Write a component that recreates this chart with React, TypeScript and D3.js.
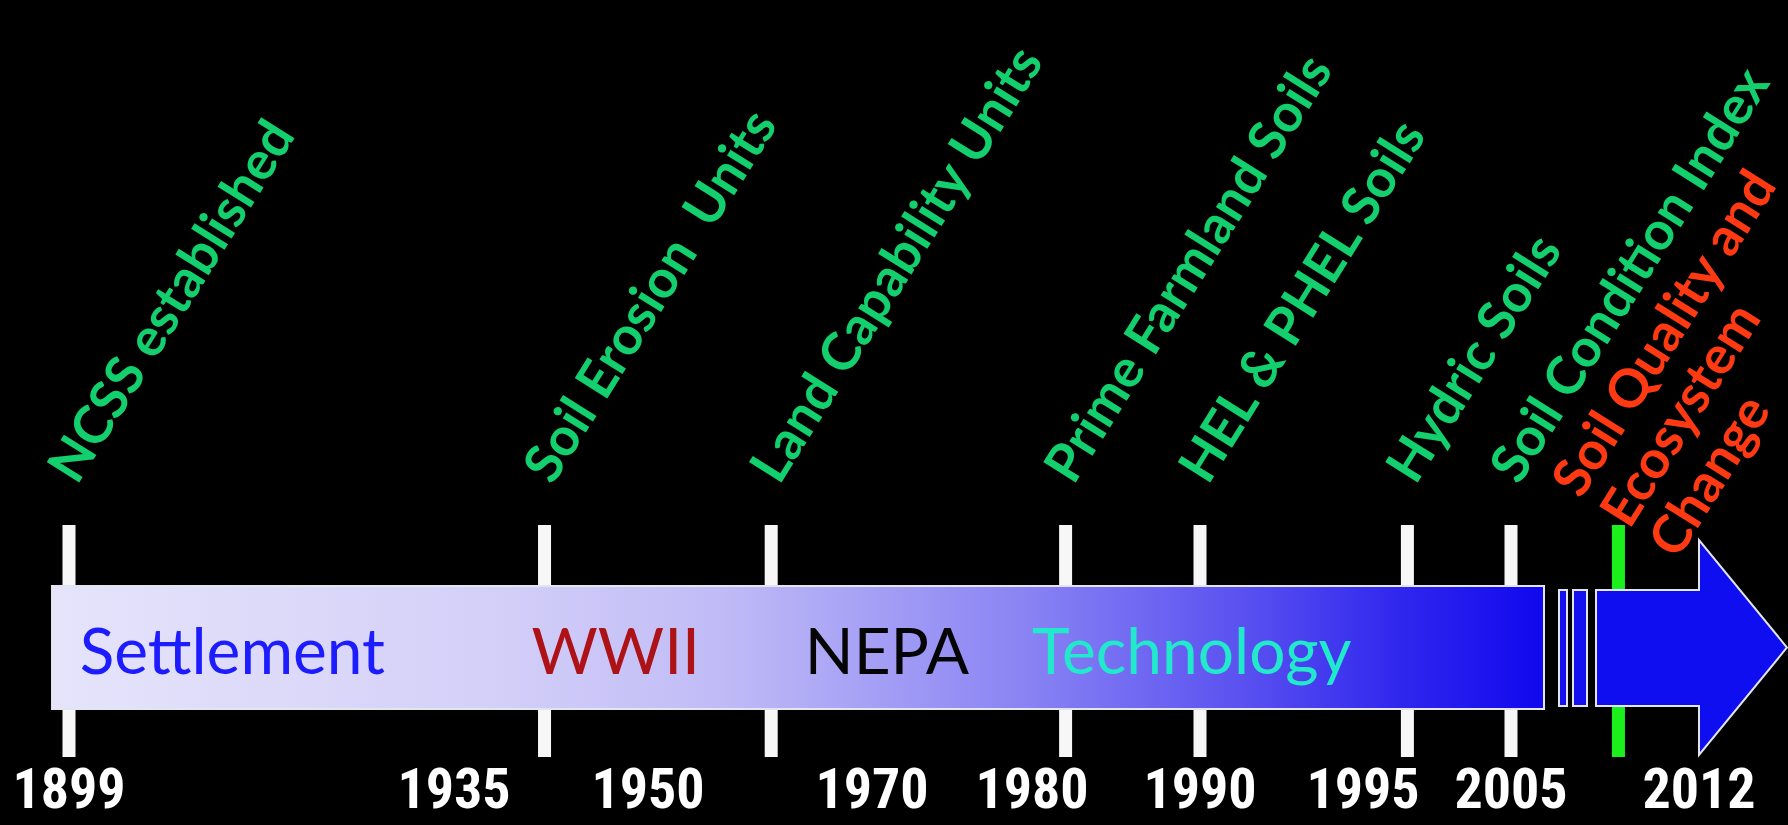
import React, { useEffect, useRef } from 'react';
import * as d3 from 'd3';

// printed years under the axis
const yearLabels = [1899, 1935, 1950, 1970, 1980, 1990, 1995, 2005, 2012];

// milestones (one tick each)
const eventNames = [
  'NCSS established',
  'Soil Erosion  Units',
  'Land Capability Units',
  'Prime Farmland Soils',
  'HEL & PHEL Soils',
  'Hydric Soils',
  'Soil Condition Index',
  'Soil Quality and\nEcosystem\nChange',
];
const eventYears = [1899, 1942, 1961, 1982, 1990, 1998, 2005, 2009];
const eventCurrent = [false, false, false, false, false, false, false, true];

// eras written inside the bar
const periodNames = ['Settlement', 'WWII', 'NEPA', 'Technology'];
const periodYears = [1900, 1941, 1964, 1980];
const periodColors = ['#1c1cff', '#ad1216', '#050505', '#22e8cc'];

const WIDTH = 1788;
const HEIGHT = 825;

const Timeline: React.FC = () => {
  const svgRef = useRef<SVGSVGElement>(null);

  useEffect(() => {
    if (!svgRef.current) return;
    document.body.style.margin = '0';
    document.body.style.background = '#000';

    const svg = d3.select(svgRef.current);
    svg.selectAll('*').remove();

    // the slide's axis is not linear, stops follow the printed years
    const x = d3.scaleLinear()
      .domain(yearLabels)
      .range([69, 454, 648, 872, 1032, 1200, 1363, 1511, 1699]);

    const tickTop = 525;
    const tickBottom = 757;
    const barTop = 586;
    const barBottom = 709;
    const angle = -58;

    const defs = svg.append('defs');
    const grad = defs.append('linearGradient')
      .attr('id', 'barFill')
      .attr('x1', 0).attr('x2', 1).attr('y1', 0).attr('y2', 0);
    const stops: [number, string][] = [
      [0, '#e6e4fb'],
      [0.3, '#d3cff8'],
      [0.45, '#c0bbf6'],
      [0.65, '#8a84f4'],
      [0.8, '#5950f0'],
      [0.9, '#3128ee'],
      [1, '#1008ee'],
    ];
    grad.selectAll('stop').data(stops).join('stop')
      .attr('offset', d => d[0])
      .attr('stop-color', d => d[1]);

    svg.append('rect')
      .attr('width', WIDTH).attr('height', HEIGHT)
      .attr('fill', '#000');

    // ticks sit behind the bar
    svg.append('g').selectAll('rect')
      .data(eventYears)
      .join('rect')
      .attr('x', d => x(d) - 6.5)
      .attr('y', tickTop)
      .attr('width', 13)
      .attr('height', tickBottom - tickTop)
      .attr('fill', (d, i) => eventCurrent[i] ? '#1cf01c' : '#f7f7f7');

    const barStart = x(1899) - 17;
    const barEnd = x(2005) + 33;

    svg.append('rect')
      .attr('x', barStart)
      .attr('y', barTop)
      .attr('width', barEnd - barStart)
      .attr('height', barBottom - barTop)
      .attr('fill', 'url(#barFill)')
      .attr('stroke', '#e4e4ee')
      .attr('stroke-width', 2);

    // the little "break" slices and the arrow
    const shaftTop = barTop + 4;
    const shaftBottom = barBottom - 3;
    const breaks: [number, number][] = [[barEnd + 15, 8], [barEnd + 29, 14]];
    svg.append('g').selectAll('rect')
      .data(breaks)
      .join('rect')
      .attr('x', d => d[0])
      .attr('y', shaftTop)
      .attr('width', d => d[1])
      .attr('height', shaftBottom - shaftTop)
      .attr('fill', '#1410ee')
      .attr('stroke', '#e4e4ee')
      .attr('stroke-width', 2);

    const shaftStart = barEnd + 52;
    const headStart = x(2012);
    const tip = WIDTH - 1;
    const mid = (barTop + barBottom) / 2;
    const p = d3.path();
    p.moveTo(shaftStart, shaftTop);
    p.lineTo(headStart, shaftTop);
    p.lineTo(headStart, tickTop + 15);
    p.lineTo(tip, mid);
    p.lineTo(headStart, tickBottom - 2);
    p.lineTo(headStart, shaftBottom);
    p.lineTo(shaftStart, shaftBottom);
    p.closePath();
    svg.append('path')
      .attr('d', p.toString())
      .attr('fill', '#0e0ef0')
      .attr('stroke', '#e4e4ee')
      .attr('stroke-width', 2)
      .attr('stroke-linejoin', 'miter');

    // era names inside the bar
    svg.append('g').selectAll('text')
      .data(periodNames)
      .join('text')
      .attr('x', (d, i) => x(periodYears[i]))
      .attr('y', 674)
      .attr('fill', (d, i) => periodColors[i])
      .attr('font-family', 'Lato, "Open Sans", sans-serif')
      .attr('font-size', 64)
      .text(d => d);

    // year labels
    svg.append('g').selectAll('text')
      .data(yearLabels)
      .join('text')
      .attr('x', d => x(d))
      .attr('y', 808)
      .attr('text-anchor', 'middle')
      .attr('fill', '#fff')
      .attr('font-family', '"Liberation Sans Narrow", "Arial Narrow", "Roboto Condensed", sans-serif')
      .attr('font-weight', 'bold')
      .attr('font-size', 56)
      .text(d => String(d));

    // slanted milestone labels
    const lineH = 57;
    const labels = svg.append('g').selectAll('text')
      .data(eventNames)
      .join('text')
      .attr('transform', (d, i) => `translate(${x(eventYears[i]) + 8},486) rotate(${angle})`)
      .attr('fill', (d, i) => eventCurrent[i] ? '#ff3a12' : '#14cf6e')
      .attr('font-family', 'Lato, "Open Sans", sans-serif')
      .attr('font-weight', 'bold')
      .attr('font-size', 53)
      .style('white-space', 'pre');

    labels.each(function (d) {
      const lines = d.split('\n');
      const n = lines.length - 1;
      const t = d3.select(this);
      lines.forEach((ln, k) => {
        t.append('tspan')
          .attr('x', -n * 18)
          .attr('y', (k - n / 2) * lineH + n * 13)
          .text(ln);
      });
    });

    return () => {
      svg.selectAll('*').remove();
    };
  }, []);

  return (
    <svg
      ref={svgRef}
      width={WIDTH}
      height={HEIGHT}
      style={{ position: 'fixed', left: 0, top: 0, display: 'block' }}
    />
  );
};

export default function App() {
  return <Timeline />;
}
